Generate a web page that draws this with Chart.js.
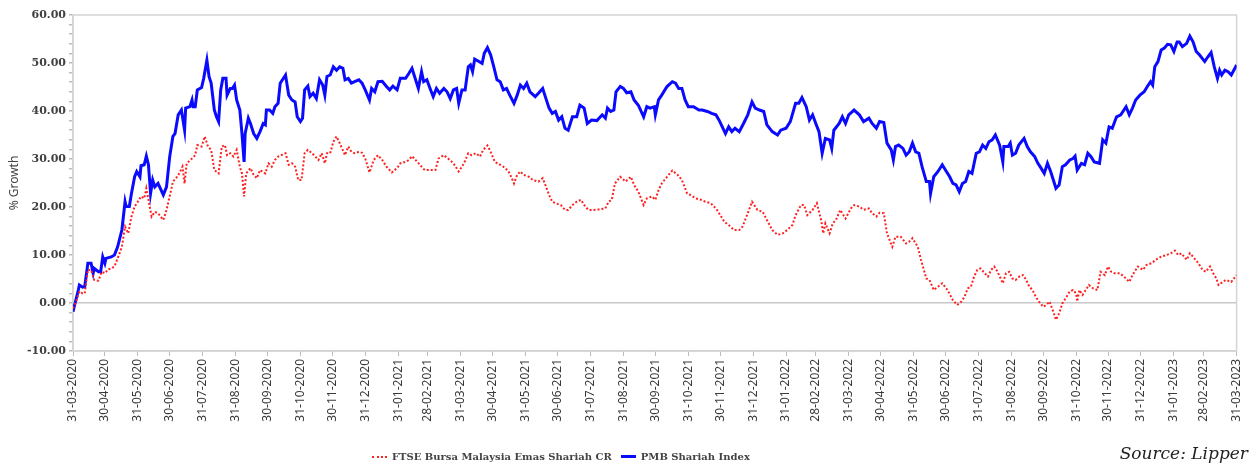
<!DOCTYPE html>
<html>
<head>
<meta charset="utf-8">
<script src="https://cdn.jsdelivr.net/npm/chart.js@4.4.1/dist/chart.umd.min.js"></script>
<style>
    html, body { margin: 0; padding: 0; background: #fff; }
    #wrap { position: relative; width: 1254px; height: 466px; }
    #legend { position: absolute; left: 372px; top: 451px; font-family: 'DejaVu Serif', serif; font-size: 10px; font-weight: bold; color: #444; display: flex; align-items: center; white-space: nowrap; }
    .swatch { display: inline-block; width: 15px; margin-right: 5px; }
    #source { position: absolute; right: 6px; top: 443px; font-family: 'DejaVu Serif', serif; font-style: italic; font-size: 17px; color: #222; }
</style>
</head>
<body>
<div id="wrap">
    <canvas id="growthChart" width="1254" height="466"></canvas>
    <div id="legend">
        <span class="swatch" style="border-top: 2px dotted #ff2020;"></span>
        <span>FTSE Bursa Malaysia Emas Shariah CR</span>
        <span class="swatch" style="border-top: 3px solid #0a0aff; margin-left: 9px;"></span>
        <span>PMB Shariah Index</span>
    </div>
    <div id="source">Source: Lipper</div>
</div>
<script>
// Month-end tick labels (dd-mm-yyyy)
const tickLabels = [
    '31-03-2020', '30-04-2020', '31-05-2020', '30-06-2020', '31-07-2020', '31-08-2020',
    '30-09-2020', '31-10-2020', '30-11-2020', '31-12-2020', '31-01-2021', '28-02-2021',
    '31-03-2021', '30-04-2021', '31-05-2021', '30-06-2021', '31-07-2021', '31-08-2021',
    '30-09-2021', '31-10-2021', '30-11-2021', '31-12-2021', '31-01-2022', '28-02-2022',
    '31-03-2022', '30-04-2022', '31-05-2022', '30-06-2022', '31-07-2022', '31-08-2022',
    '30-09-2022', '31-10-2022', '30-11-2022', '31-12-2022', '31-01-2023', '28-02-2023',
    '31-03-2023'
];

// PMB Shariah Index: days since 31-03-2020 and % growth
const pmbDays = [
    0, 2, 5, 6, 9, 11, 14, 17, 19, 20, 24, 26, 28, 30, 31, 36, 39, 42, 46, 49, 50, 53, 55, 58, 60, 63, 64, 67, 69, 71,
    73, 75, 77, 80, 85, 88, 91, 94, 96, 99, 102, 105, 106, 110, 112, 113, 115, 117, 121, 123, 126, 128, 130, 133, 135, 137, 139, 141, 144, 145,
    148, 150, 152, 154, 157, 159, 161, 162, 165, 167, 170, 173, 176, 179, 181, 182, 185, 188, 190, 193, 195, 200, 203, 206, 209, 211, 214, 216, 218, 221,
    223, 226, 229, 232, 235, 237, 239, 242, 245, 248, 251, 254, 256, 259, 262, 265, 269, 272, 275, 279, 281, 284, 287, 291, 295, 298, 301, 305, 308, 313,
    316, 319, 323, 325, 328, 330, 333, 336, 339, 342, 345, 349, 352, 355, 358, 361, 363, 366, 369, 372, 374, 376, 378, 382, 385, 387, 390, 393, 396, 399,
    402, 405, 408, 411, 415, 418, 421, 424, 427, 430, 435, 438, 442, 444, 448, 451, 454, 457, 460, 463, 466, 470, 474, 477, 481, 484, 488, 493, 498, 501,
    503, 506, 509, 511, 515, 518, 521, 525, 528, 532, 537, 540, 543, 547, 548, 551, 554, 559, 564, 567, 570, 573, 576, 579, 584, 589, 592, 597, 601, 605,
    608, 611, 614, 617, 620, 623, 627, 631, 635, 639, 642, 646, 650, 653, 658, 663, 666, 671, 675, 680, 683, 686, 690, 693, 696, 699, 702, 705, 708, 712,
    714, 716, 721, 724, 727, 730, 735, 740, 744, 749, 752, 756, 759, 763, 766, 770, 772, 774, 777, 781, 784, 787, 790, 793, 796, 799, 803, 806, 807, 810,
    814, 818, 821, 825, 828, 831, 834, 837, 840, 843, 846, 850, 853, 856, 859, 862, 865, 868, 872, 875, 876, 880, 882, 884, 887, 890, 895, 898, 901, 905,
    908, 911, 914, 917, 920, 923, 925, 928, 931, 934, 938, 941, 943, 945, 949, 952, 955, 958, 961, 966, 969, 972, 975, 978, 982, 986, 991, 994, 997, 1000,
    1004, 1008, 1011, 1014, 1016, 1018, 1021, 1024, 1027, 1030, 1033, 1036, 1039, 1041, 1044, 1048, 1051, 1054, 1057, 1060, 1065, 1068, 1071, 1074, 1077, 1079, 1081, 1084, 1087, 1090,
    1095
];
const pmbValues = [
    -1.8, 0, 2.7, 3.75, 3.3, 3.4, 8.3, 8.3, 6.2, 7.2, 6.5, 6.5, 9.6, 8.3, 9.3, 9.6, 10, 11.7, 15.2, 21.1, 20.1, 20.1, 22.8, 26.3, 27.4, 26.3, 28.6, 28.8, 30.6, 28.8,
    22.8, 25.6, 24.2, 24.9, 22.5, 24.2, 30.5, 34.7, 35.3, 39.2, 40.2, 36, 40.6, 40.9, 42.3, 40.9, 40.9, 44.4, 44.9, 46.8, 50.6, 47.2, 45.8, 40.2, 38.8, 37.8, 44.4, 46.8, 46.8, 43.3,
    44.7, 44.7, 45.4, 42.3, 40.2, 35.3, 29.4, 35.3, 38.5, 37.4, 35.3, 34.3, 35.7, 37.4, 37.1, 40.2, 40.2, 39.5, 40.9, 41.6, 45.8, 47.5, 43.3, 42.3, 41.9, 38.8, 37.8, 38.5, 44.4, 45.2,
    43, 43.7, 42.6, 46.5, 45.4, 43.3, 47.2, 47.5, 49.2, 48.5, 49.2, 48.9, 46.5, 46.8, 45.8, 46.1, 46.5, 45.8, 44.4, 42.3, 44.7, 44, 46.1, 46.2, 45.1, 44.4, 45.2, 44.4, 46.8, 46.8,
    47.8, 48.9, 46.1, 44.7, 48.2, 46.1, 46.5, 44.7, 43, 44.7, 43.7, 44.7, 44, 42.6, 44.4, 44.7, 41.6, 44.4, 44.4, 49.2, 49.6, 48.2, 50.8, 50.3, 49.9, 52, 53.2, 51.7, 49.2, 46.5,
    46.1, 44.4, 44.7, 43.3, 41.6, 43.3, 45.4, 44.7, 45.8, 44, 43, 43.7, 44.7, 43.3, 40.6, 39.5, 39.9, 38.1, 38.8, 36.4, 36, 38.8, 38.8, 41.2, 40.6, 37.4, 38.1, 38, 39.2, 38.5,
    40.6, 39.9, 40.2, 44, 45.1, 44.7, 43.8, 44, 42.3, 41.2, 38.8, 40.9, 40.6, 40.9, 39.2, 42.3, 43.3, 45.1, 46.1, 45.8, 44.7, 44.7, 42.3, 40.9, 40.9, 40.2, 40.2, 39.9, 39.5, 39.2,
    38.1, 36.7, 35.3, 36.7, 35.7, 36.4, 35.7, 37.4, 39.2, 41.9, 40.6, 40.2, 39.9, 37.1, 35.7, 35, 36, 36.4, 37.8, 41.6, 41.6, 42.8, 40.9, 38.1, 39.2, 37.4, 35.7, 31.2, 34.3, 34,
    32.2, 36, 37.4, 38.8, 37.4, 39.2, 40.2, 39.2, 37.8, 38.5, 37.4, 36.4, 37.8, 37.6, 33.3, 31.9, 29.8, 32.6, 32.9, 32.2, 30.8, 31.5, 33.3, 31.5, 31.2, 28.4, 25.3, 25.3, 22.8, 26.3,
    27.4, 28.8, 27.7, 26.3, 24.9, 24.6, 23.2, 24.9, 25.3, 27.4, 27, 31.2, 31.5, 32.9, 32.2, 33.6, 34, 35, 32.9, 29.4, 32.6, 32.6, 33.3, 30.8, 31.2, 32.9, 34.3, 32.6, 31.5, 30.5,
    29.1, 28.1, 27, 29.1, 27.4, 25.3, 23.9, 24.6, 28.4, 28.8, 29.8, 30.1, 30.6, 27.7, 29.1, 28.8, 31.2, 30.5, 29.4, 29.1, 34, 33.3, 36.7, 36.4, 38.8, 39.2, 40.9, 39.2, 40.6, 42.3,
    43.3, 44, 45.1, 46.1, 45.4, 49.2, 50.3, 52.7, 53.1, 53.9, 53.8, 52.4, 54.4, 54.4, 53.4, 54.1, 55.6, 54.4, 52.4, 51.7, 50.3, 51.3, 52.2, 49.2, 46.8, 48.5, 47.5, 48.5, 48.2, 47.5,
    49.6
];

// FTSE Bursa Malaysia Emas Shariah CR: days since 31-03-2020 and % growth
const ftseDays = [
    0, 3, 6, 9, 11, 14, 17, 20, 24, 27, 30, 33, 36, 39, 42, 46, 49, 52, 55, 58, 61, 64, 67, 69, 71, 74, 77, 80, 85, 88,
    91, 94, 97, 100, 103, 105, 107, 112, 115, 117, 121, 124, 127, 130, 133, 137, 140, 143, 145, 148, 151, 154, 157, 159, 161, 163, 167, 170, 173, 176,
    181, 184, 187, 190, 193, 196, 200, 203, 206, 209, 212, 215, 218, 221, 225, 228, 231, 234, 237, 239, 242, 245, 248, 251, 256, 259, 262, 265, 269, 272,
    275, 279, 283, 287, 291, 295, 300, 305, 308, 313, 316, 319, 324, 328, 331, 336, 341, 344, 349, 353, 358, 363, 368, 372, 375, 379, 383, 386, 390, 393,
    397, 402, 407, 411, 415, 418, 421, 424, 429, 433, 438, 442, 444, 448, 451, 454, 459, 463, 466, 470, 474, 478, 482, 485, 490, 495, 501, 504, 507, 510,
    515, 520, 525, 528, 532, 537, 540, 545, 548, 551, 554, 559, 564, 569, 573, 578, 581, 586, 591, 595, 600, 605, 608, 613, 617, 622, 627, 630, 635, 639,
    644, 649, 653, 658, 663, 668, 672, 677, 680, 685, 688, 691, 696, 700, 704, 706, 708, 712, 715, 718, 722, 727, 732, 735, 740, 744, 749, 752, 756, 759,
    763, 766, 771, 774, 779, 784, 787, 790, 795, 798, 803, 806, 810, 814, 818, 823, 828, 832, 836, 839, 842, 845, 848, 851, 854, 858, 861, 864, 867, 870,
    873, 875, 878, 881, 884, 887, 891, 894, 897, 900, 903, 906, 909, 913, 916, 919, 922, 925, 928, 931, 935, 938, 941, 944, 945, 947, 950, 953, 956, 960,
    964, 967, 971, 974, 977, 980, 985, 989, 994, 997, 1002, 1007, 1010, 1015, 1019, 1024, 1029, 1033, 1037, 1040, 1043, 1048, 1051, 1054, 1059, 1063, 1066, 1070, 1073, 1076,
    1078, 1082, 1085, 1090, 1095
];
const ftseValues = [
    -1.1, 0.3, 2.4, 2, 2, 6.9, 6.9, 4.8, 4.65, 6.5, 6.2, 7, 7.2, 7.6, 9.3, 11.7, 15.9, 14.5, 18, 20.1, 21.1, 22.2, 21.8, 23.9, 21.5, 18, 19, 18.7, 17.3, 19.4,
    22.2, 25.3, 26, 27, 28.4, 24.9, 29.1, 30.1, 30.8, 32.9, 32.6, 34.7, 32.6, 31.9, 27.7, 27, 32.6, 32.9, 30.8, 31.2, 30.5, 31.9, 28.4, 27, 22.2, 27, 28.1, 26.7, 26, 27.7,
    27, 29.1, 28.4, 29.8, 30.5, 30.8, 31.2, 28.8, 29.1, 28.4, 25.6, 25.6, 31.2, 31.9, 31.2, 30.5, 29.8, 31.2, 29.1, 31.2, 31.2, 33.6, 34.7, 33.3, 30.8, 32.6, 31.5, 31.2, 31.5, 31.3,
    30.1, 27.2, 29.8, 30.8, 29.8, 28.4, 27.2, 28.1, 29.1, 29.4, 29.8, 30.6, 29.4, 28.4, 27.7, 27.7, 27.7, 30.1, 30.8, 30.1, 29.1, 27.4, 29.1, 31.2, 30.8, 31.2, 30.5, 31.9, 32.8, 31.5,
    29.4, 28.8, 28.1, 27, 24.9, 26.7, 27.4, 26.7, 26.3, 25.6, 25.3, 26, 24.9, 22.5, 21.1, 20.8, 20.4, 19.4, 19.4, 20.4, 21.1, 21.5, 20.1, 19.4, 19.4, 19.5, 19.7, 21.1, 21.5, 24.9,
    26.3, 25.3, 26.3, 24.6, 23.2, 20.4, 21.8, 22.2, 21.5, 23.5, 24.9, 26.3, 27.6, 26.7, 25.6, 22.8, 22.5, 21.8, 21.5, 21.1, 20.8, 19.7, 18.7, 16.9, 16.25, 15.2, 15.2, 15.9, 18.7, 21.1,
    19.4, 19, 17.3, 15.2, 14.2, 14.5, 15.2, 16.25, 18.3, 20.4, 20.4, 18.3, 19.4, 20.8, 17.3, 14.5, 16.6, 14.5, 16.6, 17.3, 19.4, 17.6, 19.7, 20.4, 20.1, 19.4, 19.7, 18.7, 18, 18.8,
    18.7, 14.5, 11.7, 13.8, 13.8, 12.4, 12.8, 13.5, 11.7, 9, 5.1, 4.8, 2.7, 3.4, 4.1, 2.7, 0.6, -0.4, 0.3, 1.3, 3.05, 3.4, 5.5, 6.9, 7.2, 6.2, 5.5, 6.9, 7.6, 6.5,
    5.1, 4.1, 6.2, 6.5, 5.1, 4.8, 5.6, 5.8, 4.8, 3.4, 2.7, 1.3, 0.3, -0.8, -0.4, 0.3, -1.5, -3.5, -2.15, -0.1, 1.3, 2.4, 2.7, 2, 0.3, 2.7, 1.7, 2.7, 3.75, 3.05,
    2.7, 6.5, 5.8, 7.6, 6.5, 6.2, 6.2, 5.5, 4.4, 5.8, 7.6, 6.9, 7.9, 8.3, 9, 9.65, 10, 10.35, 10.9, 10, 10.35, 9, 10.35, 9.65, 8.3, 6.9, 6.5, 7.6, 6.2, 5.1,
    3.75, 4.4, 4.8, 4.4, 5.8
];

// Convert dd-mm-yyyy into days since the first tick
function parseDay(label) {
    const [d, m, y] = label.split('-').map(Number);
    return Date.UTC(y, m - 1, d) / 86400000;
}
const startDay = parseDay(tickLabels[0]);
const tickDays = tickLabels.map(l => parseDay(l) - startDay);
const lastDay = tickDays[tickDays.length - 1];

const toPoints = (days, values) => days.map((d, i) => ({ x: d, y: values[i] }));

// Grey frame around the plot area
const framePlugin = {
    id: 'frame',
    beforeDatasetsDraw(chart) {
        const { ctx, chartArea: a } = chart;
        ctx.save();
        ctx.strokeStyle = '#d4d4d4';
        ctx.lineWidth = 1.5;
        ctx.strokeRect(a.left, a.top, a.right - a.left, a.bottom - a.top);
        ctx.restore();
    }
};

const ctx = document.getElementById('growthChart').getContext('2d');
new Chart(ctx, {
    type: 'line',
    data: {
        datasets: [
            {
                label: 'FTSE Bursa Malaysia Emas Shariah CR',
                data: toPoints(ftseDays, ftseValues),
                borderColor: '#ff2020',
                borderWidth: 2,
                borderDash: [2, 2],
                pointRadius: 0,
                tension: 0
            },
            {
                label: 'PMB Shariah Index',
                data: toPoints(pmbDays, pmbValues),
                borderColor: '#0a0aff',
                borderWidth: 3,
                pointRadius: 0,
                tension: 0
            }
        ]
    },
    options: {
        responsive: false,
        animation: false,
        layout: { padding: { top: 15, right: 17, left: 0, bottom: 0 } },
        plugins: {
            legend: { display: false },
            tooltip: { enabled: false }
        },
        scales: {
            x: {
                type: 'linear',
                min: 0,
                max: lastDay,
                afterBuildTicks: (scale) => { scale.ticks = tickDays.map(v => ({ value: v })); },
                afterFit: (scale) => { scale.height = 115; },
                ticks: {
                    autoSkip: false,
                    minRotation: 90,
                    maxRotation: 90,
                    padding: 3,
                    color: '#3a3a3a',
                    font: { family: 'Noto Sans', size: 12 },
                    callback: (value) => {
                        const i = tickDays.indexOf(value);
                        return i >= 0 ? tickLabels[i] : '';
                    }
                },
                grid: { drawOnChartArea: false, tickLength: 5, tickColor: '#bdbdbd' },
                border: { color: '#d4d4d4', width: 1.5 }
            },
            y: {
                min: -10,
                max: 60,
                afterFit: (scale) => { scale.width = 73; },
                ticks: {
                    stepSize: 2,
                    autoSkip: false,
                    padding: 3,
                    color: '#404040',
                    font: { family: 'DejaVu Serif', size: 11, weight: 'bold' },
                    callback: (value) => (value % 10 === 0 ? value.toFixed(2) : '')
                },
                grid: {
                    tickLength: 4,
                    tickColor: '#bdbdbd',
                    color: (c) => (c.tick && c.tick.value === 0 ? '#c8c8c8' : 'rgba(0,0,0,0)'),
                    lineWidth: 1.5
                },
                border: { color: '#d4d4d4', width: 1.5 },
                title: {
                    display: true,
                    text: '% Growth',
                    color: '#444',
                    font: { family: 'Noto Sans', size: 12 },
                    padding: { top: 7, bottom: 0 }
                }
            }
        }
    },
    plugins: [framePlugin]
});
</script>
</body>
</html>
